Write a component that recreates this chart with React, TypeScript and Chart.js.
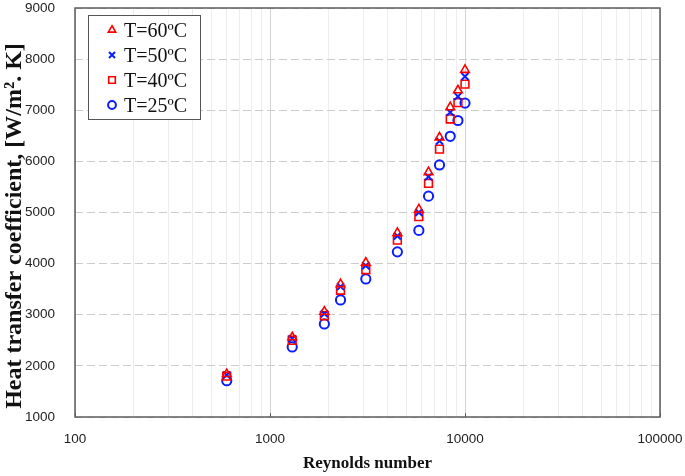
import React, { useEffect, useRef } from 'react';
import { Chart, registerables } from 'chart.js';
import { drawPoint } from 'chart.js/helpers';

Chart.register(...registerables);

// Reynolds numbers (x) shared by all series
const reynolds = [600, 1300, 1900, 2300, 3100, 4500, 5800, 6500, 7400, 8400, 9200, 10000];
// Heat transfer coefficient [W/m².K]
const h60 = [1840, 2560, 3060, 3600, 4020, 4600, 5060, 5790, 6470, 7060, 7390, 7790];
const h50 = [1820, 2530, 3020, 3550, 3960, 4540, 5000, 5700, 6400, 6960, 7270, 7660];
const h40 = [1800, 2500, 2980, 3480, 3880, 4460, 4920, 5570, 6240, 6830, 7150, 7510];
const h25 = [1710, 2370, 2820, 3290, 3700, 4230, 4650, 5320, 5930, 6490, 6800, 7140];

const seriesLabels = ['T=60ºC', 'T=50ºC', 'T=40ºC', 'T=25ºC'];
const xDecades = [100, 1000, 10000, 100000];
const yMin = 1000;
const yMax = 9000;
const yStep = 1000;
const xTitle = 'Reynolds number';
const yTitle = 'Heat transfer coefficient, [W/m². K]';

const RED = '#ff0000';
const BLUE = '#0a1eff';

const frameLegendPlugin = {
  id: 'frameLegend',
  beforeDatasetsDraw(chart: any) {
    const { ctx, chartArea: ca } = chart;
    ctx.save();
    ctx.strokeStyle = '#5c5c5c';
    ctx.lineWidth = 1.5;
    ctx.strokeRect(ca.left, ca.top, ca.right - ca.left, ca.bottom - ca.top);
    // small inside tick marks at the major x gridlines
    const xs = chart.scales.x;
    ctx.strokeStyle = '#5c5c5c';
    ctx.lineWidth = 1;
    xDecades.forEach((v) => {
      const px = Math.round(xs.getPixelForValue(v)) + 0.5;
      ctx.beginPath();
      ctx.moveTo(px, ca.bottom);
      ctx.lineTo(px, ca.bottom - 4);
      ctx.stroke();
    });
    ctx.restore();
  },
  afterDatasetsDraw(chart: any) {
    const { ctx, chartArea: ca } = chart;
    // y-axis title (drawn manually to match vertical placement)
    ctx.save();
    ctx.translate(15, 226);
    ctx.rotate(-Math.PI / 2);
    ctx.fillStyle = '#111111';
    ctx.font = 'bold 24px "Liberation Serif", serif';
    ctx.textAlign = 'center';
    ctx.textBaseline = 'middle';
    ctx.fillText(yTitle, 0, 0);
    ctx.restore();

    const x0 = ca.left + 13;
    const y0 = ca.top + 7;
    const w = 112;
    const h = 104;
    ctx.save();
    ctx.fillStyle = '#ffffff';
    ctx.fillRect(x0, y0, w, h);
    ctx.strokeStyle = '#555555';
    ctx.lineWidth = 1;
    ctx.strokeRect(x0 + 0.5, y0 + 0.5, w, h);
    chart.data.datasets.forEach((ds: any, i: number) => {
      const cy = y0 + 17 + i * 25;
      ctx.save();
      ctx.strokeStyle = ds.borderColor;
      ctx.fillStyle = 'rgba(0,0,0,0)';
      ctx.lineWidth = ds.pointBorderWidth;
      drawPoint(ctx, { pointStyle: ds.pointStyle, radius: ds.pointRadius * 0.85, rotation: 0, borderWidth: ds.pointBorderWidth }, x0 + 24, cy - 2);
      ctx.restore();
      ctx.fillStyle = '#111111';
      ctx.font = '20px "Liberation Serif"';
      ctx.textBaseline = 'middle';
      ctx.textAlign = 'left';
      ctx.fillText(ds.label, x0 + 36, cy);
    });
    ctx.restore();
  },
};

export default function App() {
  const ref = useRef<HTMLCanvasElement>(null);

  useEffect(() => {
    if (!ref.current) return;
    const mk = (vals: number[]) => reynolds.map((x, i) => ({ x, y: vals[i] }));
    const xGrid: number[] = [];
    for (let d = 0; d < xDecades.length - 1; d++) {
      for (let k = 1; k < 10; k++) xGrid.push(k * xDecades[d]);
    }
    xGrid.push(xDecades[xDecades.length - 1]);

    const tickFont = { family: '"Liberation Sans", Arial, sans-serif', size: 13.5 };

    const chart = new Chart(ref.current, {
      type: 'scatter',
      data: {
        datasets: [
          { label: seriesLabels[0], data: mk(h60), pointStyle: 'triangle', pointRadius: 5, pointBorderWidth: 1.6, borderColor: RED, backgroundColor: 'rgba(0,0,0,0)', showLine: false },
          { label: seriesLabels[1], data: mk(h50), pointStyle: 'crossRot', pointRadius: 5, pointBorderWidth: 2, borderColor: BLUE, backgroundColor: 'rgba(0,0,0,0)', showLine: false },
          { label: seriesLabels[2], data: mk(h40), pointStyle: 'rect', pointRadius: 5.5, pointBorderWidth: 1.6, borderColor: RED, backgroundColor: 'rgba(0,0,0,0)', showLine: false },
          { label: seriesLabels[3], data: mk(h25), pointStyle: 'circle', pointRadius: 4.6, pointBorderWidth: 2, borderColor: BLUE, backgroundColor: 'rgba(0,0,0,0)', showLine: false },
        ] as any,
      },
      options: {
        responsive: false,
        animation: false,
        layout: { padding: { left: 0, right: 25, top: 8, bottom: 0 } },
        plugins: { legend: { display: false }, tooltip: { enabled: false } },
        scales: {
          x: {
            type: 'logarithmic',
            min: 100,
            max: 100000,
            afterBuildTicks: (s: any) => {
              s.ticks = xGrid.map((v) => ({ value: v, major: xDecades.includes(v) }));
            },
            afterFit: (s: any) => {
              s.height = 59;
              s.paddingLeft = 0;
              s.paddingRight = 0;
            },
            ticks: {
              autoSkip: false,
              maxRotation: 0,
              minRotation: 0,
              padding: 14,
              color: '#222222',
              font: tickFont,
              callback: (v: any) => (xDecades.includes(Number(v)) ? String(v) : ''),
            },
            grid: {
              drawTicks: false,
              lineWidth: 1,
              color: (c: any) => (c.tick && xDecades.includes(c.tick.value) ? '#d2d2d2' : '#ededed'),
            },
            border: { display: false },
            title: {
              display: true,
              text: xTitle,
              color: '#111111',
              font: { family: '"Liberation Serif", serif', size: 17, weight: 'bold' },
              padding: { top: 0, bottom: 2 },
            },
          },
          y: {
            type: 'linear',
            min: yMin,
            max: yMax,
            afterFit: (s: any) => {
              s.width = 75;
              s.paddingTop = 0;
              s.paddingBottom = 0;
            },
            ticks: {
              stepSize: yStep,
              padding: 20,
              color: '#222222',
              font: tickFont,
              callback: (v: any) => String(v),
            },
            grid: {
              drawTicks: false,
              color: '#cccccc',
              lineWidth: 1,
            },
            border: { display: false, dash: [8, 4] },
            title: { display: false },
          },
        },
      } as any,
      plugins: [frameLegendPlugin],
    });
    return () => chart.destroy();
  }, []);

  return (
    <div style={{ position: 'absolute', left: 0, top: 0, width: 685, height: 476, background: '#ffffff' }}>
      <canvas ref={ref} width={685} height={476} style={{ display: 'block' }} />
    </div>
  );
}
